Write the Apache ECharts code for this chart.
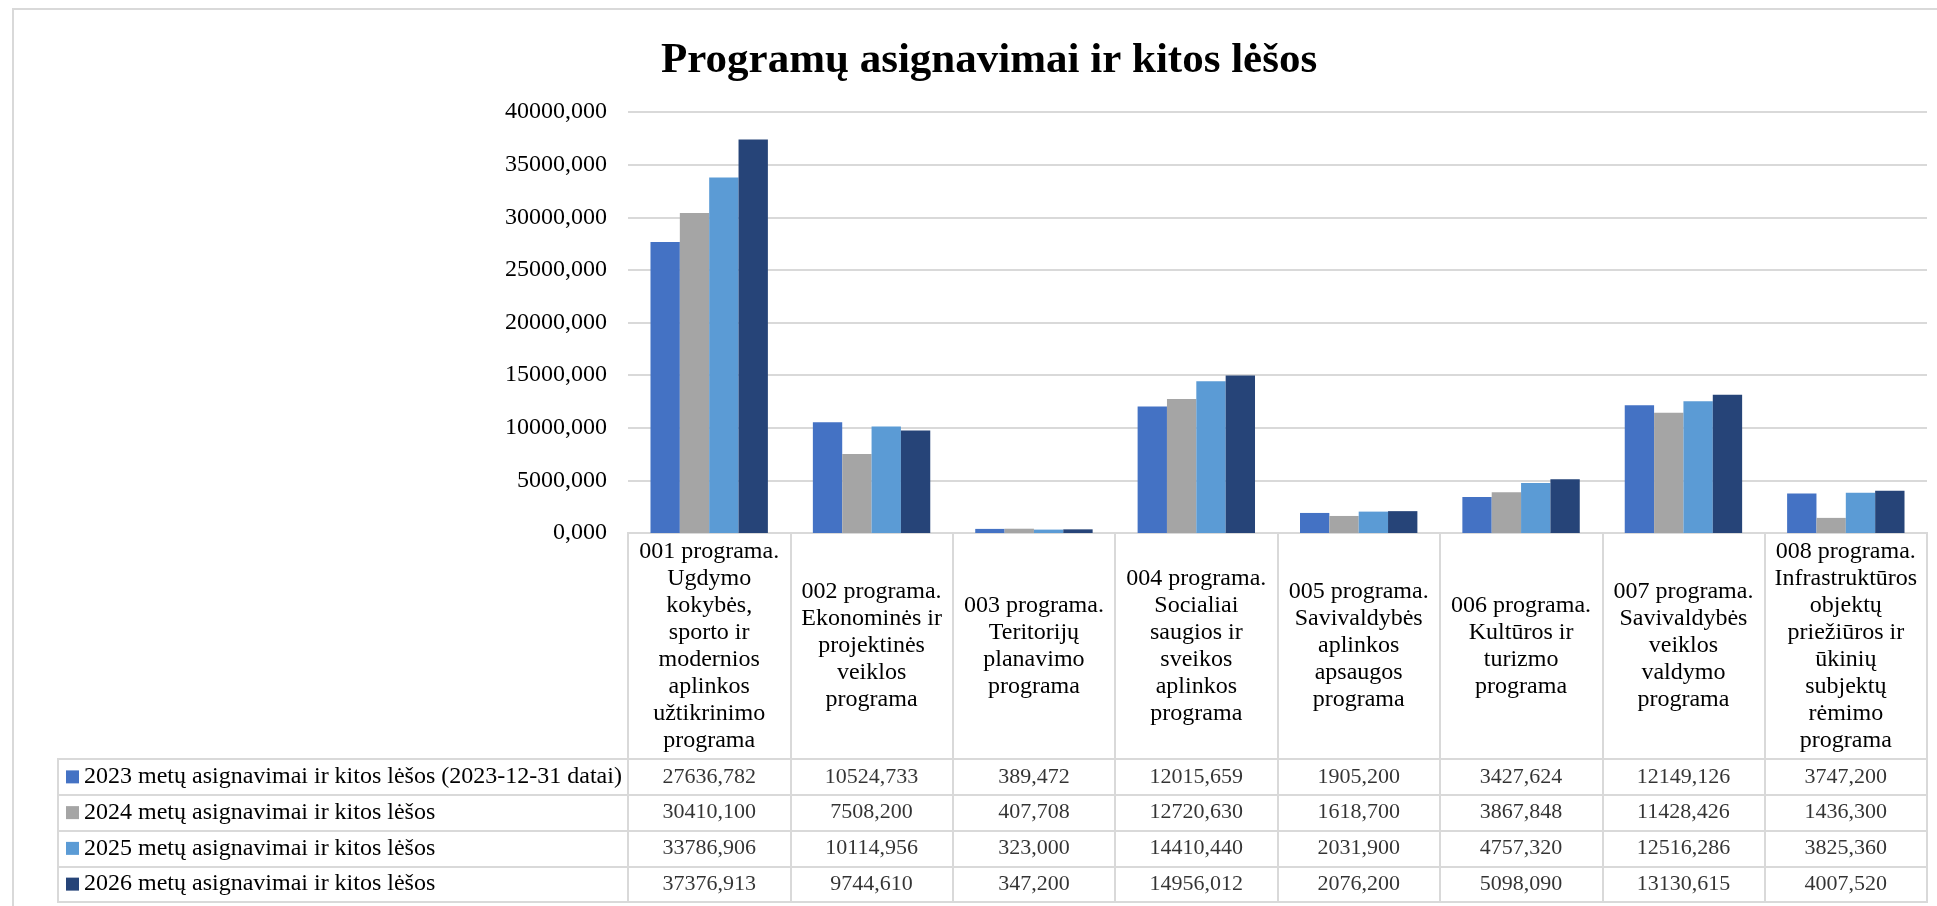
<!DOCTYPE html>
<html>
<head>
<meta charset="utf-8">
<title>Programų asignavimai ir kitos lėšos</title>
<style>
  html, body { margin: 0; padding: 0; background: #fff; }
  #chart { width: 1937px; height: 906px; }
</style>
</head>
<body>
<div id="chart"></div>
<script src="https://cdn.jsdelivr.net/npm/echarts@6/dist/echarts.min.js"></script>
<script>
// programos (eilučių laužymas kaip originale)
var categories = [
  '001 programa.\nUgdymo\nkokybės,\nsporto ir\nmodernios\naplinkos\nužtikrinimo\nprograma',
  '002 programa.\nEkonominės ir\nprojektinės\nveiklos\nprograma',
  '003 programa.\nTeritorijų\nplanavimo\nprograma',
  '004 programa.\nSocialiai\nsaugios ir\nsveikos\naplinkos\nprograma',
  '005 programa.\nSavivaldybės\naplinkos\napsaugos\nprograma',
  '006 programa.\nKultūros ir\nturizmo\nprograma',
  '007 programa.\nSavivaldybės\nveiklos\nvaldymo\nprograma',
  '008 programa.\nInfrastruktūros\nobjektų\npriežiūros ir\nūkinių\nsubjektų\nrėmimo\nprograma'
];
var seriesNames = [
  '2023 metų asignavimai ir kitos lėšos (2023-12-31 datai)',
  '2024 metų asignavimai ir kitos lėšos',
  '2025 metų asignavimai ir kitos lėšos',
  '2026 metų asignavimai ir kitos lėšos'
];
var v2023 = [27636.782, 10524.733, 389.472, 12015.659, 1905.200, 3427.624, 12149.126, 3747.200];
var v2024 = [30410.100, 7508.200, 407.708, 12720.630, 1618.700, 3867.848, 11428.426, 1436.300];
var v2025 = [33786.906, 10114.956, 323.000, 14410.440, 2031.900, 4757.320, 12516.286, 3825.360];
var v2026 = [37376.913, 9744.610, 347.200, 14956.012, 2076.200, 5098.090, 13130.615, 4007.520];
var yMax = 40000, yStep = 5000;

var colors = ['#4472C4', '#A5A5A5', '#5B9BD5', '#264478'];
var allValues = [v2023, v2024, v2025, v2026];
var lineCol = '#d9d9d9';
var font = 'Liberation Serif';

function fmt(v) { return v.toFixed(3).replace('.', ','); }

var chart = echarts.init(document.getElementById('chart'));

var series = [];
// stulpeliai
allValues.forEach(function (vals, j) {
  series.push({
    name: seriesNames[j],
    type: 'bar',
    xAxisIndex: 0, yAxisIndex: 0,
    data: vals,
    itemStyle: { color: colors[j] },
    barGap: '0%',
    barCategoryGap: '27.7%'
  });
});
// lentelės reikšmės
allValues.forEach(function (vals, j) {
  series.push({
    type: 'scatter',
    xAxisIndex: 2, yAxisIndex: 2,
    symbolSize: 0,
    silent: true,
    data: vals.map(function (v, i) { return [i, j, v]; }),
    label: {
      show: true,
      position: 'inside',
      fontFamily: font,
      fontSize: 22,
      color: '#000',
      formatter: function (p) { return fmt(p.value[2]); }
    }
  });
});

var rich = { t: { fontFamily: font, fontSize: 24, color: '#000', padding: [0, 0, 0, 5] } };
colors.forEach(function (c, j) {
  rich['m' + j] = { width: 13, height: 13, backgroundColor: c };
});

var option = {
  animation: false,
  textStyle: { fontFamily: font },
  title: {
    text: 'Programų asignavimai ir kitos lėšos',
    left: 656,
    top: 34,
    textStyle: { fontFamily: font, fontSize: 43, fontWeight: 'bold', color: '#000' }
  },
  graphic: [{
    type: 'rect',
    shape: { x: 13, y: 9, width: 1940, height: 910 },
    style: { fill: 'none', stroke: lineCol, lineWidth: 2 },
    silent: true
  }],
  grid: [
    { left: 628, top: 112, width: 1299, height: 421 },
    { left: 628, top: 533, width: 1299, height: 226, show: true, borderColor: lineCol, borderWidth: 2 },
    { left: 628, top: 759, width: 1299, height: 143, show: true, borderColor: lineCol, borderWidth: 2 },
    { left: 58, top: 759, width: 570, height: 143, show: true, borderColor: lineCol, borderWidth: 2 }
  ],
  xAxis: [
    { type: 'category', gridIndex: 0, data: categories,
      axisLine: { show: false }, axisTick: { show: false }, axisLabel: { show: false } },
    { type: 'category', gridIndex: 1, data: categories, position: 'top',
      axisLine: { show: false }, axisTick: { show: false },
      axisLabel: { interval: 0, margin: -113, verticalAlign: 'middle', align: 'center',
        fontFamily: font, fontSize: 24, lineHeight: 27, color: '#000' },
      splitLine: { show: true, interval: 0, lineStyle: { color: lineCol, width: 2 } } },
    { type: 'category', gridIndex: 2, data: categories,
      axisLine: { show: false }, axisTick: { show: false }, axisLabel: { show: false },
      splitLine: { show: true, interval: 0, lineStyle: { color: lineCol, width: 2 } } },
    { type: 'value', gridIndex: 3, show: false }
  ],
  yAxis: [
    { type: 'value', gridIndex: 0, min: 0, max: yMax, interval: yStep,
      axisLine: { show: false }, axisTick: { show: false },
      axisLabel: { margin: 21, fontFamily: font, fontSize: 24, color: '#000', formatter: fmt },
      splitLine: { lineStyle: { color: lineCol, width: 2 } } },
    { type: 'value', gridIndex: 1, show: false },
    { type: 'category', gridIndex: 2, data: seriesNames, inverse: true,
      axisLine: { show: false }, axisTick: { show: false }, axisLabel: { show: false },
      splitLine: { show: true, interval: 0, lineStyle: { color: lineCol, width: 2 } } },
    { type: 'category', gridIndex: 3, data: seriesNames, inverse: true,
      axisLine: { show: false }, axisTick: { show: false },
      axisLabel: { interval: 0, margin: -8, align: 'left', rich: rich,
        formatter: function (val, idx) { return '{m' + idx + '|}{t|' + val + '}'; } },
      splitLine: { show: true, interval: 0, lineStyle: { color: lineCol, width: 2 } } }
  ],
  series: series
};

chart.setOption(option);
</script>
</body>
</html>
